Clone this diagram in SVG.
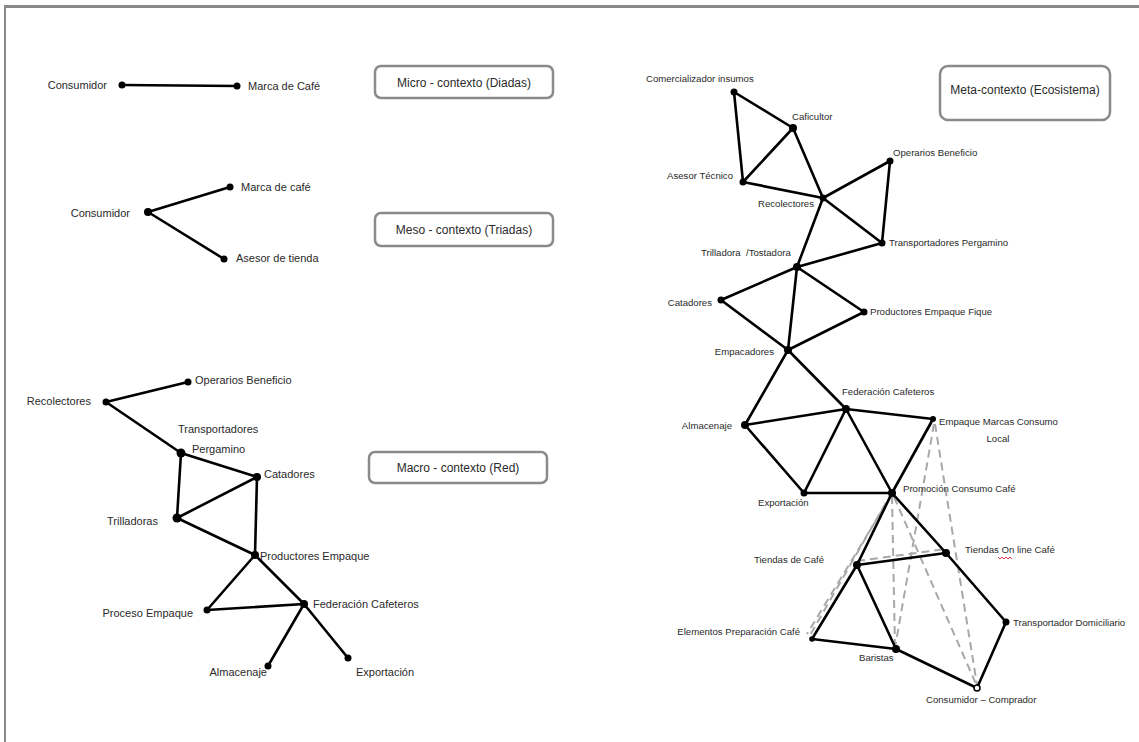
<svg xmlns="http://www.w3.org/2000/svg" width="1139" height="742" viewBox="0 0 1139 742">
<style>
text{font-family:"Liberation Sans",Arial,sans-serif;fill:#2a2a2a}
.l{font-size:11px}
.m{font-size:9.6px}
.b{font-size:12px;text-anchor:middle}
.e{text-anchor:end}
.c{text-anchor:middle}
.ln{stroke:#000;stroke-width:2.6;fill:none;stroke-linecap:round}
.d{stroke:#a8a8a8;stroke-width:2;fill:none;stroke-dasharray:8 5}
.dot{fill:#000}
.box{fill:#fff;stroke:#8a8a8a;stroke-width:2.5}
</style>
<rect width="1139" height="742" fill="#fff"/>
<g id="frame">
<line x1="4" y1="6.5" x2="1139" y2="6.5" stroke="#8a8a8a" stroke-width="3"/>
<line x1="5" y1="6" x2="5" y2="742" stroke="#8a8a8a" stroke-width="2"/>
</g>
<g id="connectors">
<!-- micro -->
<line class="ln" x1="122" y1="85" x2="237" y2="86"/>
<!-- meso -->
<line class="ln" x1="148" y1="212" x2="230" y2="187"/>
<line class="ln" x1="148" y1="212" x2="224" y2="259"/>
<!-- macro -->
<line class="ln" x1="106" y1="402" x2="188" y2="382"/>
<line class="ln" x1="106" y1="402" x2="181" y2="453"/>
<line class="ln" x1="181" y1="453" x2="257" y2="477"/>
<line class="ln" x1="181" y1="453" x2="177" y2="518"/>
<line class="ln" x1="177" y1="518" x2="257" y2="477"/>
<line class="ln" x1="257" y1="477" x2="255" y2="555"/>
<line class="ln" x1="177" y1="518" x2="255" y2="555"/>
<line class="ln" x1="255" y1="555" x2="207" y2="610"/>
<line class="ln" x1="255" y1="555" x2="304" y2="604"/>
<line class="ln" x1="207" y1="610" x2="304" y2="604"/>
<line class="ln" x1="304" y1="604" x2="268" y2="666"/>
<line class="ln" x1="304" y1="604" x2="348" y2="658"/>
<!-- meta dashed -->
<line class="d" x1="931" y1="424" x2="809" y2="637"/>
<line class="d" x1="889" y1="499" x2="807" y2="634"/>
<line class="d" x1="934" y1="424" x2="895" y2="648"/>
<line class="d" x1="892" y1="496" x2="895" y2="648"/>
<line class="d" x1="935" y1="424" x2="977" y2="685"/>
<line class="d" x1="894" y1="497" x2="976" y2="684"/>
<line class="d" x1="857" y1="561" x2="946" y2="549"/>
<!-- meta solid -->
<line class="ln" x1="734" y1="92" x2="793" y2="128"/>
<line class="ln" x1="734" y1="92" x2="743" y2="182"/>
<line class="ln" x1="793" y1="128" x2="743" y2="182"/>
<line class="ln" x1="793" y1="128" x2="823" y2="198"/>
<line class="ln" x1="743" y1="182" x2="823" y2="198"/>
<line class="ln" x1="823" y1="198" x2="890" y2="161"/>
<line class="ln" x1="823" y1="198" x2="882" y2="243"/>
<line class="ln" x1="890" y1="161" x2="882" y2="243"/>
<line class="ln" x1="823" y1="198" x2="797" y2="267"/>
<line class="ln" x1="797" y1="267" x2="882" y2="243"/>
<line class="ln" x1="797" y1="267" x2="721" y2="300"/>
<line class="ln" x1="797" y1="267" x2="864" y2="312"/>
<line class="ln" x1="797" y1="267" x2="788" y2="350"/>
<line class="ln" x1="721" y1="300" x2="788" y2="350"/>
<line class="ln" x1="788" y1="350" x2="864" y2="312"/>
<line class="ln" x1="788" y1="350" x2="745" y2="425"/>
<line class="ln" x1="788" y1="350" x2="846" y2="409"/>
<line class="ln" x1="745" y1="425" x2="846" y2="409"/>
<line class="ln" x1="745" y1="425" x2="804" y2="493"/>
<line class="ln" x1="846" y1="409" x2="804" y2="493"/>
<line class="ln" x1="846" y1="409" x2="892" y2="493"/>
<line class="ln" x1="846" y1="409" x2="933" y2="419"/>
<line class="ln" x1="804" y1="493" x2="892" y2="493"/>
<line class="ln" x1="933" y1="419" x2="892" y2="493"/>
<line class="ln" x1="892" y1="493" x2="857" y2="565"/>
<line class="ln" x1="892" y1="493" x2="946" y2="553"/>
<line class="ln" x1="857" y1="565" x2="946" y2="553"/>
<line class="ln" x1="857" y1="565" x2="812" y2="639"/>
<line class="ln" x1="857" y1="565" x2="896" y2="649"/>
<line class="ln" x1="812" y1="639" x2="896" y2="649"/>
<line class="ln" x1="896" y1="649" x2="977" y2="688"/>
<line class="ln" x1="946" y1="553" x2="1006" y2="622"/>
<line class="ln" x1="1006" y1="622" x2="977" y2="688"/>
</g>
<g id="boxes">
<g id="box-micro"><rect class="box" x="375" y="66" width="178" height="32" rx="6"/><text class="b" x="464" y="87">Micro - contexto (Diadas)</text></g>
<g id="box-meso"><rect class="box" x="375" y="213" width="178" height="33" rx="6"/><text class="b" x="464" y="234">Meso - contexto (Triadas)</text></g>
<g id="box-macro"><rect class="box" x="369" y="452" width="178" height="31" rx="6"/><text class="b" x="458" y="472">Macro - contexto (Red)</text></g>
<g id="box-meta"><rect class="box" x="940" y="66" width="170" height="54" rx="8"/><text class="b" x="1025" y="94">Meta-contexto (Ecosistema)</text></g>
</g>
<g id="micro">
<g id="mi-consumidor"><circle class="dot" cx="122" cy="85" r="3.5"/><text class="l e" x="107" y="89">Consumidor</text></g>
<g id="mi-marca"><circle class="dot" cx="237" cy="86" r="3.5"/><text class="l" x="248" y="90">Marca de Café</text></g>
</g>
<g id="meso">
<g id="me-consumidor"><circle class="dot" cx="148" cy="212" r="4"/><text class="l e" x="130" y="217">Consumidor</text></g>
<g id="me-marca"><circle class="dot" cx="230" cy="187" r="3.5"/><text class="l" x="241" y="191">Marca de café</text></g>
<g id="me-asesor"><circle class="dot" cx="224" cy="259" r="3.5"/><text class="l" x="236" y="262">Asesor de tienda</text></g>
</g>
<g id="macro">
<g id="ma-operarios"><circle class="dot" cx="188" cy="382" r="3.5"/><text class="l" x="195" y="384">Operarios Beneficio</text></g>
<g id="ma-recolectores"><circle class="dot" cx="106" cy="402" r="3.5"/><text class="l e" x="91" y="405">Recolectores</text></g>
<g id="ma-transportadores"><circle class="dot" cx="181" cy="453" r="4.5"/><text class="l" x="178" y="433">Transportadores</text><text class="l" x="192" y="453">Pergamino</text></g>
<g id="ma-catadores"><circle class="dot" cx="257" cy="477" r="4"/><text class="l" x="264" y="478">Catadores</text></g>
<g id="ma-trilladoras"><circle class="dot" cx="177" cy="518" r="4.5"/><text class="l e" x="158" y="525">Trilladoras</text></g>
<g id="ma-productores"><circle class="dot" cx="255" cy="555" r="4"/><text class="l" x="260" y="560">Productores Empaque</text></g>
<g id="ma-proceso"><circle class="dot" cx="207" cy="610" r="3.5"/><text class="l e" x="193" y="617">Proceso Empaque</text></g>
<g id="ma-federacion"><circle class="dot" cx="304" cy="604" r="4"/><text class="l" x="313" y="608">Federación Cafeteros</text></g>
<g id="ma-almacenaje"><circle class="dot" cx="268" cy="666" r="3.5"/><text class="l e" x="267" y="676">Almacenaje</text></g>
<g id="ma-exportacion"><circle class="dot" cx="348" cy="658" r="3.5"/><text class="l" x="356" y="676">Exportación</text></g>
</g>
<g id="meta">
<g id="mt-comercializador"><circle class="dot" cx="734" cy="92" r="3.5"/><text class="m" x="646" y="82">Comercializador insumos</text></g>
<g id="mt-caficultor"><circle class="dot" cx="793" cy="128" r="4"/><text class="m" x="792" y="120">Caficultor</text></g>
<g id="mt-asesor"><circle class="dot" cx="743" cy="182" r="3.5"/><text class="m e" x="733" y="179">Asesor Técnico</text></g>
<g id="mt-recolectores"><circle class="dot" cx="823" cy="198" r="3.5"/><text class="m" x="758" y="207">Recolectores</text></g>
<g id="mt-operarios"><circle class="dot" cx="890" cy="161" r="3.5"/><text class="m" x="893" y="156">Operarios Beneficio</text></g>
<g id="mt-transportadores"><circle class="dot" cx="882" cy="243" r="3.5"/><text class="m" x="889" y="246">Transportadores Pergamino</text></g>
<g id="mt-trilladora"><circle class="dot" cx="797" cy="267" r="4"/><text class="m" x="701" y="256" style="white-space:pre">Trilladora  /Tostadora</text></g>
<g id="mt-catadores"><circle class="dot" cx="721" cy="300" r="3.5"/><text class="m e" x="712" y="306">Catadores</text></g>
<g id="mt-productores"><circle class="dot" cx="864" cy="312" r="3.5"/><text class="m" x="870" y="315">Productores Empaque Fique</text></g>
<g id="mt-empacadores"><circle class="dot" cx="788" cy="350" r="4"/><text class="m e" x="774" y="355">Empacadores</text></g>
<g id="mt-federacion"><circle class="dot" cx="846" cy="409" r="4"/><text class="m" x="842" y="395">Federación Cafeteros</text></g>
<g id="mt-almacenaje"><circle class="dot" cx="745" cy="425" r="4"/><text class="m e" x="732" y="429">Almacenaje</text></g>
<g id="mt-empaque"><circle class="dot" cx="933" cy="419" r="3"/><text class="m" x="939" y="425">Empaque Marcas Consumo</text><text class="m c" x="998" y="442">Local</text></g>
<g id="mt-exportacion"><circle class="dot" cx="804" cy="493" r="3.5"/><text class="m" x="758" y="506">Exportación</text></g>
<g id="mt-promocion"><circle class="dot" cx="892" cy="493" r="4"/><text class="m" x="903" y="492">Promoción Consumo Café</text></g>
<g id="mt-tiendas"><circle class="dot" cx="857" cy="565" r="4"/><text class="m e" x="824" y="563">Tiendas de Café</text></g>
<g id="mt-online"><circle class="dot" cx="946" cy="553" r="4"/><text class="m" x="965" y="553">Tiendas On line Café</text><polyline points="998,557 1000,559 1002,557 1004,559 1006,557 1008,559 1010,557 1012,559" fill="none" stroke="#d23" stroke-width="0.9"/></g>
<g id="mt-elementos"><circle class="dot" cx="812" cy="639" r="2.8"/><text class="m e" x="800" y="635">Elementos Preparación Café</text></g>
<g id="mt-baristas"><circle class="dot" cx="896" cy="649" r="4"/><text class="m" x="859" y="661">Baristas</text></g>
<g id="mt-transportador"><circle class="dot" cx="1006" cy="622" r="3.5"/><text class="m" x="1013" y="626">Transportador Domiciliario</text></g>
<g id="mt-consumidor"><circle cx="977" cy="688" r="3" fill="#fff" stroke="#000" stroke-width="1.5"/><text class="m" x="926" y="703">Consumidor – Comprador</text></g>
</g>
</svg>
